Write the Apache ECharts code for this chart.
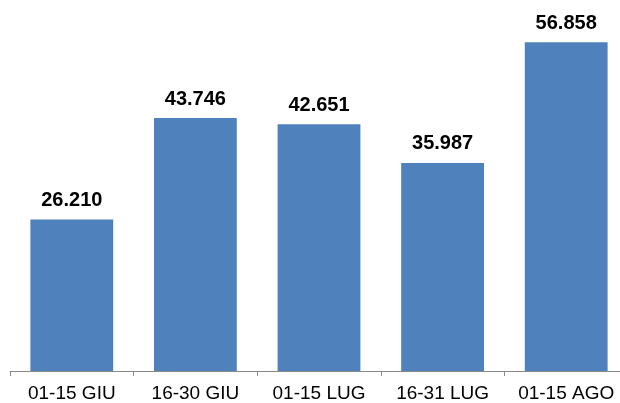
<!DOCTYPE html>
<html><head><meta charset="utf-8">
<script src="https://cdn.jsdelivr.net/npm/echarts@6/dist/echarts.min.js"></script>
<style>html,body{margin:0;padding:0;background:#fff;overflow:hidden;width:620px;height:403px}#c{width:630px;height:403px}</style>
</head><body><div id="c"></div>
<script>
const categories = ['01-15 GIU', '16-30 GIU', '01-15 LUG', '16-31 LUG', '01-15 AGO'];
const values = [26210, 43746, 42651, 35987, 56858];
const fmt = v => (v / 1000).toFixed(3);
const chart = echarts.init(document.getElementById('c'));
chart.setOption({
  animation: false,
  grid: { left: 10, right: 2, top: 24, bottom: 31 },
  xAxis: {
    type: 'category', data: categories,
    axisLine: { lineStyle: { color: '#898989', width: 1 } },
    axisTick: { show: true, length: 5, lineStyle: { color: '#898989' } },
    axisLabel: { color: '#000', fontFamily: 'Liberation Sans', fontSize: 19, margin: 13, interval: 0 }
  },
  yAxis: { type: 'value', min: 0, max: 60000, show: false, splitLine: { show: false } },
  series: [{
    type: 'bar', data: values, barWidth: '67%',
    itemStyle: { color: '#4F81BD' },
    label: { show: true, position: 'top', distance: 9, color: '#000', fontFamily: 'Liberation Sans',
      fontWeight: 'bold', fontSize: 20, formatter: p => fmt(p.value) }
  }]
});
</script></body></html>
